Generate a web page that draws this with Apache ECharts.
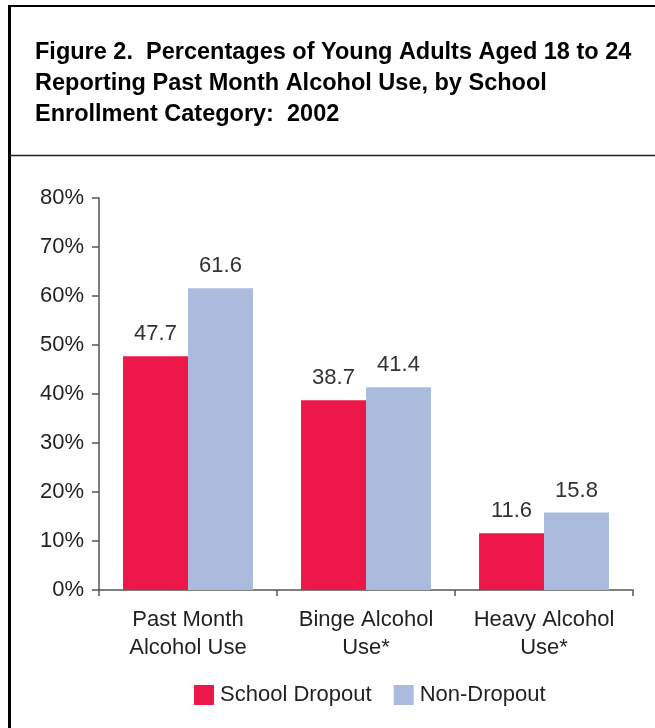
<!DOCTYPE html>
<html>
<head>
<meta charset="utf-8">
<style>
  html, body { margin: 0; padding: 0; background: #fff; }
  #chart { width: 655px; height: 728px; }
</style>
<script src="https://cdn.jsdelivr.net/npm/echarts@6/dist/echarts.min.js"></script>
</head>
<body>
<div id="chart"></div>
<script>
// Past-month alcohol use among young adults aged 18-24, 2002
const categories = ['Past Month\nAlcohol Use', 'Binge Alcohol\nUse*', 'Heavy Alcohol\nUse*'];
const dropoutValues = [47.7, 38.7, 11.6];
const nonDropoutValues = [61.6, 41.4, 15.8];
const seriesNames = ['School Dropout', 'Non-Dropout'];
const yTicks = [0, 10, 20, 30, 40, 50, 60, 70, 80];

const FONT = '"Liberation Sans", Arial, Helvetica, sans-serif';
const TEXT = '#231f20';

const chart = echarts.init(document.getElementById('chart'), null, { renderer: 'canvas' });

const valueLabel = {
  show: true,
  position: 'top',
  distance: 11,
  fontFamily: FONT,
  fontSize: 22,
  color: '#333',
  formatter: p => p.value.toFixed(1)
};

chart.setOption({
  backgroundColor: '#fff',
  animation: false,
  title: {
    text: 'Figure 2.  Percentages of Young Adults Aged 18 to 24\nReporting Past Month Alcohol Use, by School\nEnrollment Category:  2002',
    left: 35,
    top: 37,
    padding: 0,
    textStyle: {
      fontFamily: FONT,
      fontWeight: 'bold',
      fontSize: 23.5,
      lineHeight: 31,
      color: '#000'
    }
  },
  graphic: [
    // frame: top edge, left edge and the rule under the heading
    { type: 'line', shape: { x1: 8, y1: 6, x2: 655, y2: 6 }, style: { stroke: '#000', lineWidth: 2 }, silent: true },
    { type: 'line', shape: { x1: 9.5, y1: 5, x2: 9.5, y2: 728 }, style: { stroke: '#000', lineWidth: 3 }, silent: true },
    { type: 'line', shape: { x1: 9, y1: 155.5, x2: 655, y2: 155.5 }, style: { stroke: '#222', lineWidth: 1.5 }, silent: true }
  ],
  legend: {
    data: seriesNames,
    left: 194,
    top: 684,
    padding: 0,
    icon: 'rect',
    itemWidth: 20,
    itemHeight: 20,
    itemGap: 22,
    textStyle: { fontFamily: FONT, fontSize: 22, color: TEXT, padding: [0, 0, 0, 1] }
  },
  grid: { left: 99, right: 22, top: 198, bottom: 138, containLabel: false },
  xAxis: {
    type: 'category',
    data: categories,
    axisLine: { show: true, lineStyle: { color: '#555', width: 1.5 } },
    axisTick: { show: true, length: 6, alignWithLabel: false, lineStyle: { color: '#555', width: 1.5 } },
    axisLabel: {
      interval: 0,
      margin: 16,
      fontFamily: FONT,
      fontSize: 22,
      lineHeight: 28,
      color: TEXT
    }
  },
  yAxis: {
    type: 'value',
    min: yTicks[0],
    max: yTicks[yTicks.length - 1],
    interval: 10,
    axisLine: { show: true, lineStyle: { color: '#555', width: 1.5 } },
    axisTick: { show: true, length: 7, lineStyle: { color: '#555', width: 1.5 } },
    splitLine: { show: false },
    axisLabel: {
      margin: 15,
      fontFamily: FONT,
      fontSize: 22,
      color: TEXT,
      formatter: v => v + '%'
    }
  },
  series: [
    {
      name: seriesNames[0],
      type: 'bar',
      data: dropoutValues,
      barGap: '0%',
      barCategoryGap: '27%',
      itemStyle: { color: '#ED1749' },
      label: valueLabel
    },
    {
      name: seriesNames[1],
      type: 'bar',
      data: nonDropoutValues,
      itemStyle: { color: '#AABBDE' },
      label: valueLabel
    }
  ]
});
</script>
</body>
</html>
